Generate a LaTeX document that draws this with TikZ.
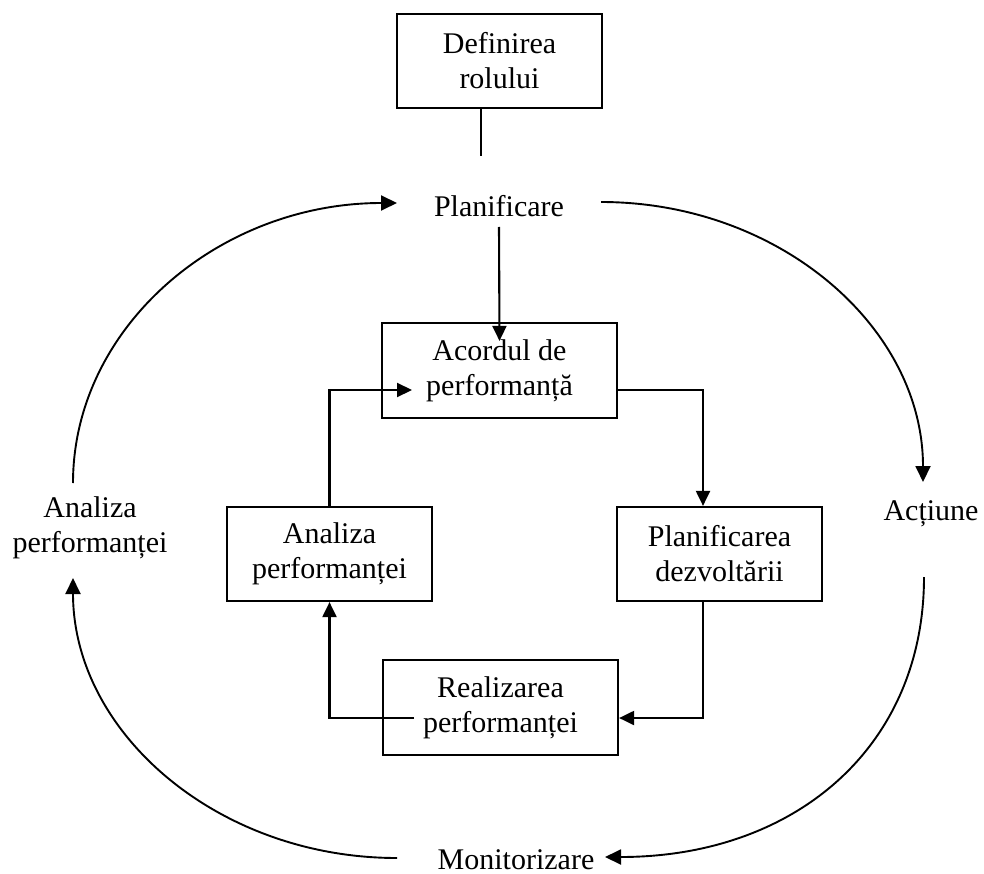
\documentclass[tikz,border=0pt]{standalone}
\usepackage{fontspec}
\setmainfont{Liberation Serif}
\usetikzlibrary{arrows.meta}
\begin{document}
\begin{tikzpicture}[x=1pt,y=-1pt,
  every node/.style={font=\fontsize{30}{35}\selectfont},
  box/.style={draw, line width=2.2pt, minimum width=205pt, minimum height=94pt,
              inner sep=0pt, align=center},
  wide/.style={box, minimum width=235pt, minimum height=95pt},
  label/.style={inner sep=0pt, align=center},
  link/.style={line width=2.1pt},
  arr/.style={link, -{Triangle[length=15pt,width=14pt]}},
  cyc/.style={line width=1.9pt, -{Triangle[length=16pt,width=15pt]}}
]
\useasboundingbox (0,0) rectangle (984,874);

% boxes of the inner loop
\node[box]  (def)   at (499.5,61)    {Definirea\\rolului};
\node[wide] (acord) at (499.5,370.5) {Acordul de\\performanță};
\node[box]  (anaIn) at (329.5,554)   {Analiza\\performanței};
\node[box]  (dez)   at (719.5,554)   {Planificarea\\dezvoltării};
\node[wide] (real)  at (500.5,707.5) {Realizarea\\performanței};

% labels of the outer cycle
\node[label, anchor=base] (plan) at (499,217) {Planificare};
\node[label, anchor=base] (act)  at (931,520) {Acțiune};
\node[label, anchor=base] (mon)  at (516,869) {Monitorizare};
\node[label] (anaOut) at (90,528) {Analiza\\performanței};

% end points of the outer arcs
\coordinate (ulS) at (73,483);
\coordinate (ulE) at (397,203);
\coordinate (urS) at (601,202);
\coordinate (urE) at (923,482);
\coordinate (lrS) at (924,577);
\coordinate (lrE) at (605,857);
\coordinate (llS) at (397,858);
\coordinate (llE) at (73,578);

% outer cycle
\draw[cyc] (ulS) .. controls +(0,-155) and +(-179,0) .. (ulE);
\draw[cyc] (urS) .. controls +(178,0) and +(0,-155) .. (urE);
\draw[cyc] (lrS) .. controls +(0,170) and +(190,0) .. (lrE);
\draw[cyc] (llS) .. controls +(-179,0) and +(0,155) .. (llE);

% role definition feeding the planning stage
\draw[link] ([xshift=-18.5pt]def.south) -- ++(0,47);

% planning into the agreement
\draw[arr] ([yshift=-10pt]plan.base) -- ([yshift=-19pt]acord.north);

% inner loop
\draw[arr] ([yshift=-19.5pt]acord.east) -| ([xshift=-16.5pt]dez.north);
\draw[arr] ([xshift=-16.5pt]dez.south) |- ([yshift=-10.5pt]real.east);
\draw[arr] ([shift={(-86.5pt,-10.5pt)}]real.center) -| (anaIn.south);
\draw[arr] (anaIn.north) |- ([shift={(-87.5pt,-19.5pt)}]acord.center);
\end{tikzpicture}
\end{document}
